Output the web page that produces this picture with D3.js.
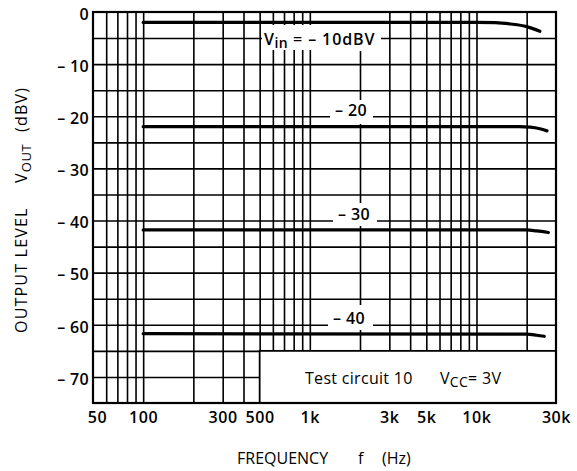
<!DOCTYPE html>
<html><head><meta charset="utf-8">
<script src="https://cdn.jsdelivr.net/npm/d3@7"></script>
<style>
html,body{margin:0;padding:0;background:#fff;}
text{font-family:"Open Sans","DejaVu Sans",sans-serif;fill:#000;}
</style></head>
<body><svg id="c" width="577" height="471"></svg>
<script>
// ---- data ----
const xTickValues = [50, 100, 300, 500, 1000, 3000, 5000, 10000, 30000];
const xTickLabels = ["50", "100", "300", "500", "1k", "3k", "5k", "10k", "30k"];
const yTickValues = [0, -10, -20, -30, -40, -50, -60, -70];
const yTickLabels = ["0", "\u2013 10", "\u2013 20", "\u2013 30", "\u2013 40", "\u2013 50", "\u2013 60", "\u2013 70"];
const xGridValues = [60, 70, 80, 90, 100, 200, 300, 400, 500, 600, 700, 800, 900, 1000,
  2000, 3000, 4000, 5000, 6000, 7000, 8000, 9000, 10000, 20000];
const yGridValues = [-5, -10, -15, -20, -25, -30, -35, -40, -45, -50, -55, -60, -65, -70];

const seriesNames = ["-10", "-20", "-30", "-40"];
const freq10 = [100, 10000, 13000, 16000, 20000, 24000];
const out10  = [-2, -2, -2.05, -2.3, -2.8, -3.7];
const freq20 = [100, 18000, 21000, 24000, 26500];
const out20  = [-22, -22, -22.1, -22.4, -22.8];
const freq30 = [100, 20000, 23000, 27000];
const out30  = [-41.8, -41.8, -42, -42.3];
const freq40 = [100, 20000, 23000, 25500];
const out40  = [-61.7, -61.8, -62, -62.2];

// ---- layout ----
const L = 93, R = 556, T = 12, B = 403;
const svg = d3.select("#c");
const x = d3.scaleLog().domain([50, 30000]).range([L, R]);
const y = d3.scaleLinear().domain([0, -75]).range([T, B]);
const FONT = '"Open Sans",sans-serif';

// grid
const gv = svg.append("g").attr("transform", `translate(0,${B})`)
  .call(d3.axisBottom(x).tickValues(xGridValues).tickSize(-(B - T)).tickFormat(""));
gv.select(".domain").remove();
gv.selectAll("line").attr("stroke", "#000").attr("stroke-width", 1.6);
const gh = svg.append("g").attr("transform", `translate(${L},0)`)
  .call(d3.axisLeft(y).tickValues(yGridValues).tickSize(-(R - L)).tickFormat(""));
gh.select(".domain").remove();
gh.selectAll("line").attr("stroke", "#000").attr("stroke-width", 1.6);

// top row: 2k line absent above the label
svg.append("rect").attr("x", x(2000) - 2).attr("y", T).attr("width", 4).attr("height", y(-7.5) - T).attr("fill", "#fff");

// label masks (pixel boxes: x, y, w, h)
const masks = [
  [262, 25, 119, 25],
  [330, 100, 43, 24],
  [333, 203, 44, 23],
  [328, 305, 45, 25]
];
svg.selectAll("rect.mask").data(masks).enter().append("rect").attr("class", "mask")
  .attr("x", d => d[0]).attr("y", d => d[1]).attr("width", d => d[2]).attr("height", d => d[3])
  .attr("fill", "#fff");

// test-circuit box
svg.append("rect").attr("x", x(500)).attr("y", y(-65)).attr("width", x(30000) - x(500))
  .attr("height", y(-75) - y(-65)).attr("fill", "#fff").attr("stroke", "#000").attr("stroke-width", 1.8);

// frame
svg.append("rect").attr("x", L).attr("y", T).attr("width", R - L).attr("height", B - T)
  .attr("fill", "none").attr("stroke", "#000").attr("stroke-width", 2.2);

// curves
const series = [[freq10, out10], [freq20, out20], [freq30, out30], [freq40, out40]];
const line = d3.line().x(d => x(d[0])).y(d => y(d[1])).curve(d3.curveMonotoneX);
svg.selectAll("path.curve").data(series).enter().append("path").attr("class", "curve")
  .attr("d", s => line(s[0].map((f, i) => [f, s[1][i]])))
  .attr("fill", "none").attr("stroke", "#000").attr("stroke-width", 3.2).attr("stroke-linecap", "round");

// tick labels
const ax = svg.append("g").attr("transform", `translate(0,${B})`)
  .call(d3.axisBottom(x).tickValues(xTickValues).tickSize(0).tickPadding(8)
    .tickFormat((d, i) => xTickLabels[i]));
ax.select(".domain").remove();
ax.selectAll("text").attr("font-size", 16).attr("font-weight", 600).attr("letter-spacing", 0.6)
  .style("font-family", FONT).attr("dy", "0.72em");
ax.selectAll(".tick").filter(d => d === 50).select("text").attr("dx", 4);

const ay = svg.append("g").attr("transform", `translate(${L},0)`)
  .call(d3.axisLeft(y).tickValues(yTickValues).tickSize(0).tickPadding(4)
    .tickFormat((d, i) => yTickLabels[i]));
ay.select(".domain").remove();
ay.selectAll("text").attr("font-size", 16).attr("font-weight", 600).attr("letter-spacing", 0.3)
  .style("font-family", FONT).attr("dy", "0.45em");

// series labels
const lbl = (tx, ty) => svg.append("text").attr("x", tx).attr("y", ty).attr("font-size", 16)
  .attr("font-weight", 600).attr("letter-spacing", 0.4);
const t1 = lbl(264, y(-5) + 6.5);
t1.append("tspan").text("V");
t1.append("tspan").attr("font-size", 14).attr("dy", 3.5).text("in");
t1.append("tspan").attr("dy", -3.5).attr("letter-spacing", 0.9).text(" = \u2013 10dBV");
lbl(335, y(-20) - 0.5).text("\u2013 20");
lbl(338, y(-40) - 0.5).text("\u2013 30");
lbl(333, y(-60) - 0.5).text("\u2013 40");

// test circuit text
const tc = svg.append("text").attr("x", 305).attr("y", y(-70) + 7).attr("font-size", 16)
  .attr("font-weight", 500).attr("letter-spacing", 0.3);
tc.append("tspan").text("Test circuit 10");
tc.append("tspan").attr("x", 440).text("V");
tc.append("tspan").attr("font-size", 14).attr("dy", 3.5).text("CC");
tc.append("tspan").attr("dy", -3.5).text("= 3V");

// axis titles
const xt = svg.append("text").attr("y", 464).attr("font-size", 16).attr("font-weight", 500);
xt.append("tspan").attr("x", 237).text("FREQUENCY");
xt.append("tspan").attr("x", 358).text("f");
xt.append("tspan").attr("x", 382).text("(Hz)");
const yt = svg.append("text").attr("transform", "translate(27,0) rotate(-90)")
  .attr("font-size", 16).attr("font-weight", 500).attr("letter-spacing", 1.2);
yt.append("tspan").attr("x", -333).text("OUTPUT LEVEL");
yt.append("tspan").attr("x", -183).text("V");
yt.append("tspan").attr("font-size", 13).attr("dy", 3.5).attr("letter-spacing", 0.6).text("OUT");
yt.append("tspan").attr("x", -132).attr("dy", -3.5).text("(dBV)");
</script></body></html>
